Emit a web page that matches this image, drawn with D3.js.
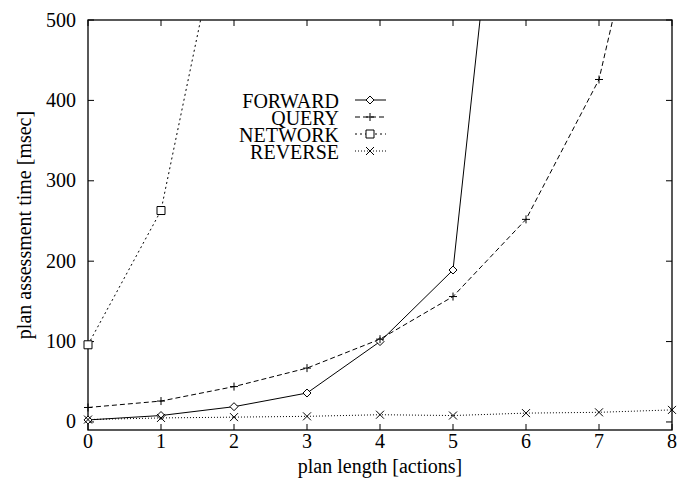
<!DOCTYPE html>
<html><head><meta charset="utf-8">
<script src="https://cdn.jsdelivr.net/npm/d3@7"></script>
<style>body{margin:0;background:#fff}svg{display:block}text{font-family:"Liberation Serif","Times New Roman",serif;fill:#000}</style>
</head><body><svg id="c" width="680" height="489"></svg>
<script>
const xValues = [0,1,2,3,4,5,6,7,8];
const forward = [2.5, 8, 19, 36, 100, 189, 1030, null, null];
const query   = [18, 26, 44, 67, 103, 156, 252, 426, 820];
const network = [96, 263, 700, null, null, null, null, null, null];
const reverse = [3, 5, 6, 7, 9, 8, 11, 12, 15];
const seriesNames = ["FORWARD","QUERY","NETWORK","REVERSE"];
const xTicks = [0,1,2,3,4,5,6,7,8];
const yTicks = [0,100,200,300,400,500];
const xLabel = "plan length [actions]";
const yLabel = "plan assessment time [msec]";

const svg = d3.select("#c");
const L=88,R=672,T=20,B=430;
const x = d3.scaleLinear().domain([0,8]).range([L,R]);
const y = d3.scaleLinear().domain([-10,500]).range([B,T]);

svg.append("defs").append("clipPath").attr("id","clip")
  .append("rect").attr("x",L).attr("y",T).attr("width",R-L).attr("height",B-T);

const tl=6;
const g = svg.append("g").attr("stroke","#000").attr("stroke-width",1);
xTicks.forEach(t=>{
  g.append("line").attr("x1",x(t)).attr("x2",x(t)).attr("y1",B).attr("y2",B-tl);
  g.append("line").attr("x1",x(t)).attr("x2",x(t)).attr("y1",T).attr("y2",T+tl);
});
yTicks.forEach(t=>{
  g.append("line").attr("x1",L).attr("x2",L+tl).attr("y1",y(t)).attr("y2",y(t));
  g.append("line").attr("x1",R).attr("x2",R-tl).attr("y1",y(t)).attr("y2",y(t));
});
svg.append("rect").attr("x",L).attr("y",T).attr("width",R-L).attr("height",B-T)
  .attr("fill","none").attr("stroke","#000").attr("stroke-width",1.3);

svg.append("g").selectAll("text").data(xTicks).join("text")
  .attr("x",d=>x(d)).attr("y",448).attr("text-anchor","middle").attr("font-size",20).text(d=>d);
svg.append("g").selectAll("text").data(yTicks).join("text")
  .attr("x",76).attr("y",d=>y(d)+6.5).attr("text-anchor","end").attr("font-size",20).text(d=>d);
svg.append("text").attr("x",(L+R)/2).attr("y",473).attr("text-anchor","middle").attr("font-size",20).text(xLabel);
svg.append("text").attr("transform",`translate(31,${(T+B)/2}) rotate(-90)`).attr("text-anchor","middle").attr("font-size",20).text(yLabel);

const dashes = ["", "5,3", "2,3", "1,2"];
const data = [forward, query, network, reverse];
const ms = 4;
function marker(sel, kind, cx, cy){
  const p = sel.append("path").attr("fill","none").attr("stroke","#000").attr("stroke-width",1);
  if(kind===0) p.attr("d",`M${cx},${cy-ms}L${cx+ms},${cy}L${cx},${cy+ms}L${cx-ms},${cy}Z`).attr("fill","#fff");
  if(kind===1) p.attr("d",`M${cx-ms},${cy}H${cx+ms}M${cx},${cy-ms}V${cy+ms}`);
  if(kind===2) p.attr("d",`M${cx-ms},${cy-ms}H${cx+ms}V${cy+ms}H${cx-ms}Z`).attr("fill","#fff");
  if(kind===3) p.attr("d",`M${cx-ms},${cy-ms}L${cx+ms},${cy+ms}M${cx+ms},${cy-ms}L${cx-ms},${cy+ms}`);
}
const plot = svg.append("g").attr("clip-path","url(#clip)");
const lineGen = d3.line().defined(d=>d[1]!=null).x(d=>x(d[0])).y(d=>y(d[1]));
data.forEach((vals,i)=>{
  const pts = xValues.map((xv,j)=>[xv,vals[j]]);
  plot.append("path").datum(pts).attr("d",lineGen).attr("fill","none").attr("stroke","#000")
    .attr("stroke-width",1).attr("stroke-dasharray",dashes[i]);
});
data.forEach((vals,i)=>{
  const pg = svg.append("g");
  xValues.forEach((xv,j)=>{ const v=vals[j]; if(v!=null && v<=500) marker(pg,i,x(xv),y(v)); });
});

const lg = svg.append("g");
seriesNames.forEach((n,i)=>{
  const base = 107.5 + i*17;
  const ly = base - 7.5;
  lg.append("text").attr("x",339).attr("y",base).attr("text-anchor","end").attr("font-size",20).text(n);
  lg.append("line").attr("x1",355).attr("x2",386).attr("y1",ly).attr("y2",ly)
    .attr("stroke","#000").attr("stroke-width",1).attr("stroke-dasharray",dashes[i]);
  marker(lg,i,370,ly);
});
</script></body></html>
